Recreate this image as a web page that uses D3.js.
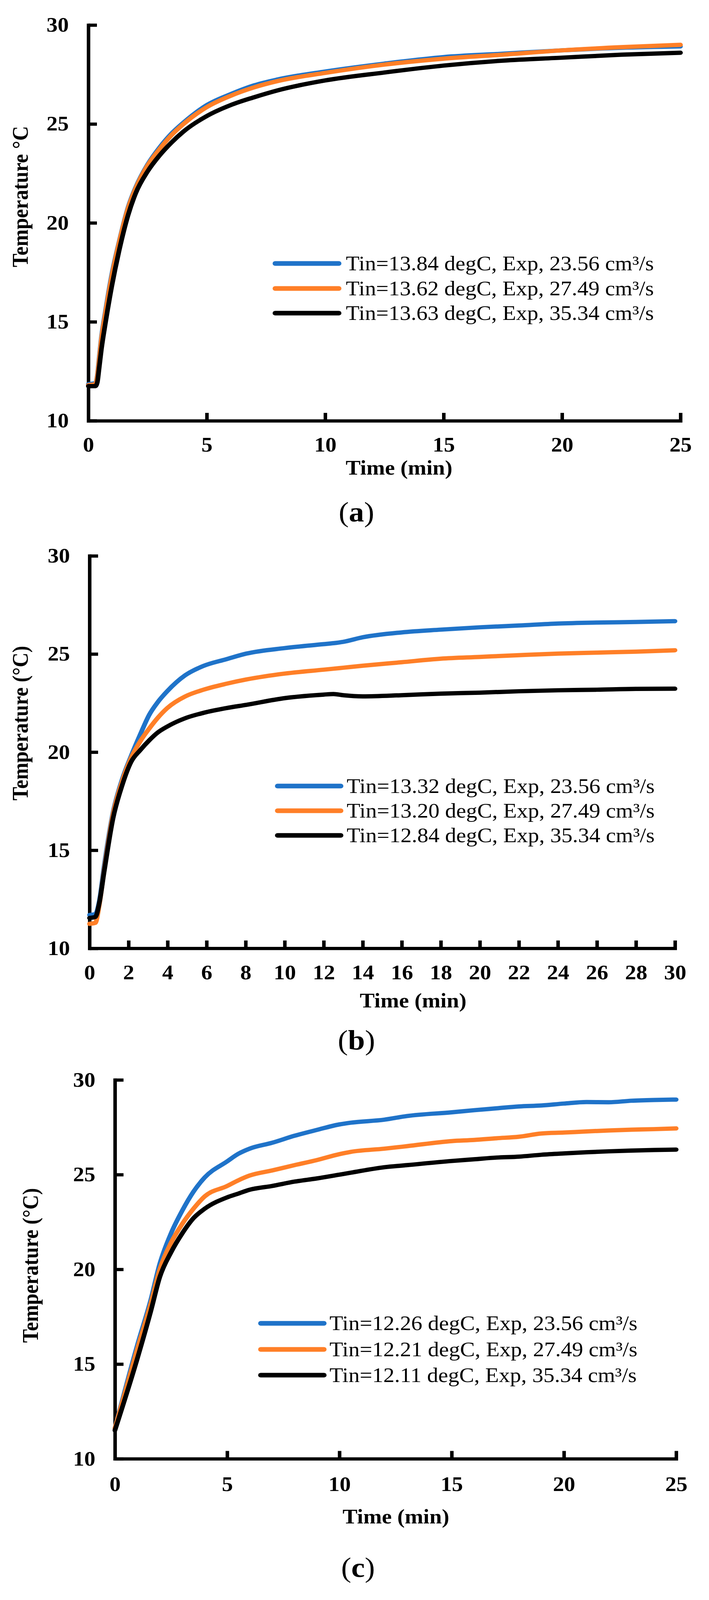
<!DOCTYPE html>
<html>
<head>
<meta charset="utf-8">
<script src="https://cdn.jsdelivr.net/npm/d3@7"></script>
<style>
  html, body { margin: 0; padding: 0; background: #fff; overflow: hidden; }
  #fig svg { display: block; }
  svg text { font-family: "Liberation Serif", "Times New Roman", serif; fill: #000; }
</style>
</head>
<body>
<div id="fig"></div>
<script>
// ---------- data ----------
// panel (a)
const timeA = [0, 0.3, 0.38, 0.45, 0.55, 0.73, 0.99, 1.3, 1.68, 2, 2.5, 3, 3.5, 4, 5, 6, 7, 8, 10, 12.5, 15, 17.5, 20, 22.5, 25];
const blueA = [11.85, 11.9, 12.3, 13.1, 14.2, 15.6, 17.4, 19.05, 20.8, 21.8, 22.95, 23.8, 24.5, 25.05, 25.95, 26.5, 26.95, 27.25, 27.65, 28.05, 28.38, 28.55, 28.72, 28.85, 28.92];
const orangeA = [11.8, 11.85, 12.25, 13.0, 14.1, 15.5, 17.3, 19.0, 20.75, 21.75, 22.9, 23.72, 24.42, 24.98, 25.85, 26.42, 26.85, 27.17, 27.58, 28.0, 28.3, 28.5, 28.72, 28.88, 29.0];
const blackA = [11.75, 11.75, 11.95, 12.6, 13.6, 15.0, 16.8, 18.6, 20.4, 21.5, 22.6, 23.4, 24.05, 24.6, 25.4, 25.95, 26.35, 26.7, 27.2, 27.6, 27.95, 28.2, 28.35, 28.5, 28.6];
const legendA = ['Tin=13.84 degC, Exp, 23.56 cm\u00b3/s', 'Tin=13.62 degC, Exp, 27.49 cm\u00b3/s', 'Tin=13.63 degC, Exp, 35.34 cm\u00b3/s'];

// panel (b)
const timeB = [0, 0.3, 0.5, 0.75, 1.2, 1.67, 2.13, 2.6, 3.06, 3.5, 3.98, 4.91, 5.84, 7, 8.04, 10, 12, 12.5, 13, 14, 16, 18, 20, 22, 24, 26, 28, 30];
const blueB = [11.7, 11.75, 12.4, 14.2, 16.9, 18.6, 19.8, 20.9, 21.9, 22.55, 23.1, 23.92, 24.39, 24.73, 25.02, 25.3, 25.5, 25.55, 25.62, 25.85, 26.1, 26.24, 26.36, 26.45, 26.55, 26.6, 26.63, 26.67];
const orangeB = [11.25, 11.3, 12.2, 14.0, 16.8, 18.5, 19.7, 20.55, 21.2, 21.75, 22.24, 22.84, 23.18, 23.48, 23.7, 24.0, 24.2, 24.25, 24.3, 24.4, 24.58, 24.76, 24.85, 24.94, 25.02, 25.07, 25.12, 25.19];
const blackB = [11.55, 11.6, 12.3, 13.9, 16.6, 18.3, 19.5, 20.1, 20.6, 21.0, 21.3, 21.73, 22.0, 22.24, 22.41, 22.75, 22.93, 22.96, 22.9, 22.84, 22.9, 22.98, 23.03, 23.1, 23.15, 23.18, 23.22, 23.23];
const legendB = ['Tin=13.32 degC, Exp, 23.56 cm\u00b3/s', 'Tin=13.20 degC, Exp, 27.49 cm\u00b3/s', 'Tin=12.84 degC, Exp, 35.34 cm\u00b3/s'];

// panel (c)
const timeC = [0, 1, 1.6, 2, 2.5, 3, 3.5, 4, 5, 5.5, 6, 7, 8, 9, 10, 10.5, 12, 13, 15, 16, 17, 18, 19, 20, 21, 22, 23, 24, 25];
const blueC = [11.6, 16.0, 18.4, 20.3, 21.9, 23.1, 24.1, 24.85, 25.7, 26.1, 26.37, 26.68, 27.05, 27.36, 27.65, 27.74, 27.9, 28.09, 28.29, 28.4, 28.5, 28.6, 28.65, 28.75, 28.83, 28.82, 28.9, 28.94, 28.96];
const orangeC = [11.6, 15.8, 18.2, 20.0, 21.4, 22.4, 23.2, 23.85, 24.4, 24.7, 24.95, 25.22, 25.5, 25.77, 26.08, 26.2, 26.37, 26.5, 26.77, 26.83, 26.92, 27.0, 27.17, 27.22, 27.28, 27.33, 27.37, 27.4, 27.44];
const blackC = [11.5, 15.3, 17.8, 19.6, 20.9, 21.9, 22.7, 23.2, 23.8, 24.0, 24.2, 24.4, 24.63, 24.8, 25.0, 25.1, 25.39, 25.5, 25.72, 25.81, 25.9, 25.95, 26.05, 26.12, 26.18, 26.23, 26.27, 26.3, 26.32];
const legendC = ['Tin=12.26 degC, Exp, 23.56 cm\u00b3/s', 'Tin=12.21 degC, Exp, 27.49 cm\u00b3/s', 'Tin=12.11 degC, Exp, 35.34 cm\u00b3/s'];

const yTicks = [10, 15, 20, 25, 30];
const xTicksA = [0, 5, 10, 15, 20, 25];
const xTicksB = [0, 2, 4, 6, 8, 10, 12, 14, 16, 18, 20, 22, 24, 26, 28, 30];
const xTicksC = [0, 5, 10, 15, 20, 25];

const colors = ['#1f73c9', '#ff7f27', '#000000'];

// ---------- layout ----------
const W = 1814, H = 4476;
const panels = [
  {
    time: timeA, series: [blueA, orangeA, blackA], legend: legendA, xTicks: xTicksA, xMax: 25,
    x0: 226, x1: 1741, yTop: 70, yBot: 1177, xPad: 46,
    yTitle: 'Temperature \u00b0C', yTitleX: 71, yTitleY: 550,
    xTitleX: 1021, xTitleY: 1328,
    legX0: 704, legX1: 867, legTextX: 885, legY: [737, 807, 876],
    cap: 'a', capX: 912, capY: 1459
  },
  {
    time: timeB, series: [blueB, orangeB, blackB], legend: legendB, xTicks: xTicksB, xMax: 30,
    x0: 229, x1: 1727, yTop: 1555, yBot: 2653, xPad: 46,
    yTitle: 'Temperature (\u00b0C)', yTitleX: 71, yTitleY: 2023,
    xTitleX: 1057, xTitleY: 2818,
    legX0: 710, legX1: 872, legTextX: 887, legY: [2199, 2268, 2337],
    cap: 'b', capX: 912, capY: 2936
  },
  {
    time: timeC, series: [blueC, orangeC, blackC], legend: legendC, xTicks: xTicksC, xMax: 25,
    x0: 294, x1: 1730, yTop: 3021, yBot: 4081, xPad: 50,
    yTitle: 'Temperature (\u00b0C)', yTitleX: 97, yTitleY: 3540,
    xTitleX: 1013, xTitleY: 4262,
    legX0: 667, legX1: 829, legTextX: 843, legY: [3702, 3775, 3847],
    cap: 'c', capX: 916, capY: 4412
  }
];

// the whole figure is fitted to the window so nothing falls off the picture
const svg = d3.select('#fig').append('svg')
  .attr('viewBox', `0 0 ${W} ${H}`)
  .attr('preserveAspectRatio', 'none')
  .style('width', '100vw')
  .style('height', '100vh');

svg.append('rect').attr('width', W).attr('height', H).attr('fill', '#fff');

panels.forEach((p) => {
  const x = d3.scaleLinear().domain([0, p.xMax]).range([p.x0, p.x1]);
  const y = d3.scaleLinear().domain([10, 30]).range([p.yBot, p.yTop]);
  const g = svg.append('g');

  /* ---------------- AXES ---------------- */
  const yAxis = g.append('g')
    .attr('transform', `translate(${p.x0},0)`)
    .call(d3.axisLeft(y).tickValues(yTicks).tickSizeInner(-22).tickSizeOuter(0).tickPadding(50));
  const xAxis = g.append('g')
    .attr('transform', `translate(0,${p.yBot})`)
    .call(d3.axisBottom(x).tickValues(p.xTicks).tickSizeInner(-22).tickSizeOuter(0).tickPadding(p.xPad));

  [yAxis, xAxis].forEach((ax) => {
    ax.select('.domain').attr('stroke', '#000').attr('stroke-width', 9).attr('stroke-linecap', 'square');
    ax.selectAll('.tick line').attr('stroke', '#000').attr('stroke-width', 9);
    ax.selectAll('.tick text')
      .attr('font-family', '"Liberation Serif", "Times New Roman", serif')
      .attr('font-size', 57)
      .attr('font-weight', 'bold')
      .attr('fill', '#000');
  });

  /* ---------------- SERIES ---------------- */
  const line = d3.line()
    .x((d) => x(d[0]))
    .y((d) => y(d[1]))
    .curve(d3.curveMonotoneX);

  p.series.forEach((vals, i) => {
    g.append('path')
      .datum(p.time.map((t, k) => [t, vals[k]]))
      .attr('d', line)
      .attr('fill', 'none')
      .attr('stroke', colors[i])
      .attr('stroke-width', 12)
      .attr('stroke-linejoin', 'round')
      .attr('stroke-linecap', 'round');
  });

  /* ---------------- LEGEND ---------------- */
  p.legend.forEach((label, i) => {
    const ly = p.legY[i];
    g.append('line')
      .attr('x1', p.legX0).attr('x2', p.legX1)
      .attr('y1', ly).attr('y2', ly)
      .attr('stroke', colors[i])
      .attr('stroke-width', 13)
      .attr('stroke-linecap', 'round');
    g.append('text')
      .attr('x', p.legTextX)
      .attr('y', ly + 19)
      .attr('font-size', 57)
      .text(label);
  });

  /* ---------------- TITLES ---------------- */
  g.append('text')
    .attr('transform', `translate(${p.yTitleX},${p.yTitleY}) rotate(-90)`)
    .attr('text-anchor', 'middle')
    .attr('font-size', 57)
    .attr('font-weight', 'bold')
    .text(p.yTitle);

  g.append('text')
    .attr('x', p.xTitleX)
    .attr('y', p.xTitleY)
    .attr('text-anchor', 'middle')
    .attr('font-size', 57)
    .attr('font-weight', 'bold')
    .text('Time (min)');

  const cap = g.append('text')
    .attr('x', p.capX)
    .attr('y', p.capY)
    .attr('text-anchor', 'middle')
    .attr('font-size', 78);
  cap.append('tspan').text('(');
  cap.append('tspan').attr('font-weight', 'bold').text(p.cap);
  cap.append('tspan').text(')');
});
</script>
</body>
</html>
